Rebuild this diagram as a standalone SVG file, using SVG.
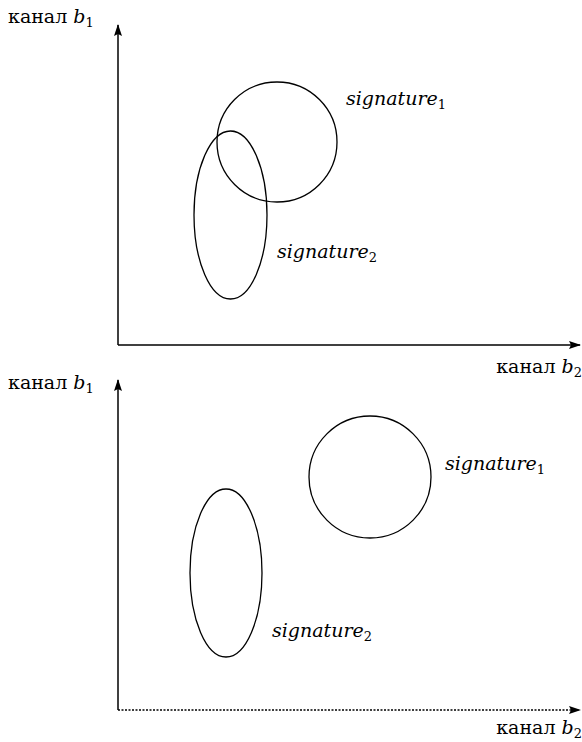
<svg xmlns="http://www.w3.org/2000/svg" width="582" height="742" viewBox="0 0 582 742">
<style>
text{font-family:'DejaVu Serif','Liberation Serif',serif;font-size:19px;fill:#000}
.i{font-style:italic}
.s{font-size:13px;font-style:normal}
.ax{stroke:#000;stroke-width:1.5;fill:none}
.sh{stroke:#000;stroke-width:1.3;fill:none}
</style>
<defs>
<marker id="ah" markerWidth="12" markerHeight="10" refX="11" refY="5" orient="auto" markerUnits="userSpaceOnUse">
<path d="M0,1 L12,5 L0,9 L2,5 Z" fill="#000"/>
</marker>
</defs>
<g id="connectors">
<path class="ax" d="M118,345 L118,25" marker-end="url(#ah)"/>
<path class="ax" d="M118,345 L580,345" marker-end="url(#ah)"/>
<path class="ax" d="M118,710 L118,380" marker-end="url(#ah)"/>
<path class="ax" d="M118,710 L580,710" stroke-dasharray="2,1.5" marker-end="url(#ah)"/>
</g>
<g id="top-signature1"><circle class="sh" cx="277" cy="142" r="60"/></g>
<g id="top-signature2"><ellipse class="sh" cx="230.5" cy="215" rx="36.5" ry="84"/></g>
<g id="bottom-signature1"><circle class="sh" cx="370" cy="477" r="61"/></g>
<g id="bottom-signature2"><ellipse class="sh" cx="226" cy="573" rx="36" ry="84"/></g>
<g id="labels">
<text x="8" y="23">канал <tspan class="i">b</tspan><tspan class="s" dy="4">1</tspan></text>
<text x="582" y="373" text-anchor="end">канал <tspan class="i">b</tspan><tspan class="s" dy="4">2</tspan></text>
<text x="8" y="389">канал <tspan class="i">b</tspan><tspan class="s" dy="4">1</tspan></text>
<text x="582" y="734" text-anchor="end">канал <tspan class="i">b</tspan><tspan class="s" dy="4">2</tspan></text>
<text class="i" x="346" y="105">signature<tspan class="s" dy="4">1</tspan></text>
<text class="i" x="277" y="258">signature<tspan class="s" dy="4">2</tspan></text>
<text class="i" x="445" y="470">signature<tspan class="s" dy="4">1</tspan></text>
<text class="i" x="272" y="637">signature<tspan class="s" dy="4">2</tspan></text>
</g>
</svg>
